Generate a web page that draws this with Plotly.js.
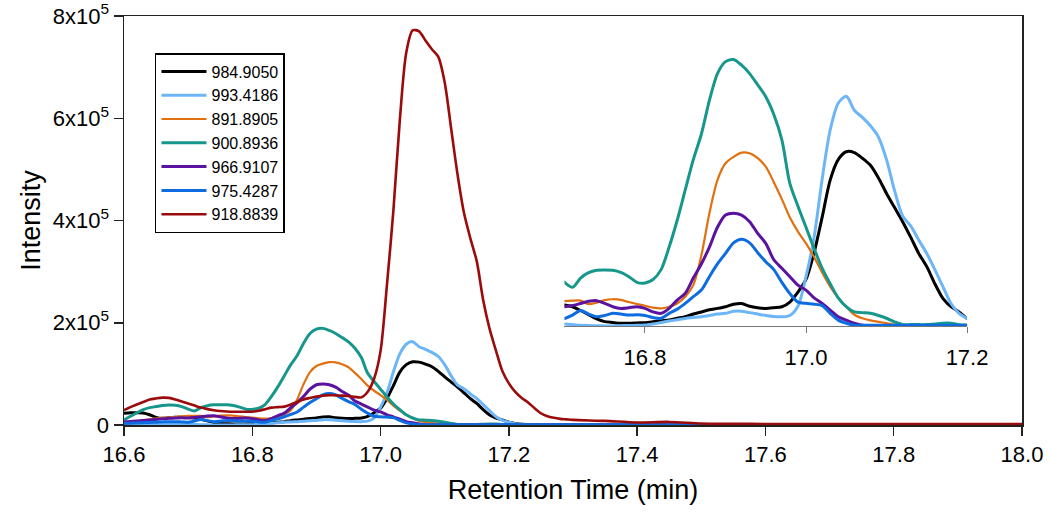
<!DOCTYPE html>
<html>
<head>
<meta charset="utf-8">
<script src="https://cdn.plot.ly/plotly-3.0.1.min.js"></script>
<style>
  html, body { margin: 0; padding: 0; background: #fff; }
  #chart { width: 1050px; height: 516px; }
</style>
</head>
<body>
<div id="chart"></div>
<script>
// retention time (min)
const times = [
  16.60, 16.61, 16.62, 16.63, 16.64, 16.65, 16.66, 16.67, 16.68, 16.69,
  16.70, 16.71, 16.72, 16.73, 16.74, 16.75, 16.76, 16.77, 16.78, 16.79,
  16.80, 16.81, 16.82, 16.83, 16.84, 16.85, 16.86, 16.87, 16.88, 16.89,
  16.90, 16.91, 16.92, 16.93, 16.94, 16.95, 16.96, 16.97, 16.98, 16.99,
  17.00, 17.01, 17.02, 17.03, 17.04, 17.05, 17.06, 17.07, 17.08, 17.09,
  17.10, 17.11, 17.12, 17.13, 17.14, 17.15, 17.16, 17.17, 17.18, 17.19,
  17.20, 17.21, 17.22, 17.23, 17.24, 17.25, 17.26, 17.27, 17.28, 17.29,
  17.30, 17.35, 17.40, 17.45, 17.50, 17.55, 17.60, 17.65, 17.70, 17.75,
  17.80, 17.85, 17.90, 17.95, 18.00
];

// intensities, in units of 10^5
const mz984 = [
  0.23, 0.24, 0.24, 0.235, 0.20, 0.15, 0.13, 0.14, 0.15, 0.15,
  0.149, 0.137, 0.11, 0.08, 0.05, 0.031, 0.025, 0.02, 0.02, 0.022,
  0.024, 0.03, 0.037, 0.042, 0.055, 0.066, 0.085, 0.10, 0.115, 0.125,
  0.137, 0.155, 0.16, 0.14, 0.13, 0.125, 0.13, 0.137, 0.17, 0.24,
  0.33, 0.52, 0.77, 1.035, 1.18, 1.236, 1.23, 1.19, 1.14, 1.05,
  0.94, 0.84, 0.74, 0.63, 0.515, 0.421, 0.30, 0.196, 0.137, 0.10,
  0.054, 0.03, 0.015, 0.01, 0.005, 0, 0, 0, 0, 0,
  0, 0, 0, 0, 0, 0, 0, 0, 0, 0,
  0, 0, 0, 0, 0
];
const mz993 = [
  0.01, 0.01, 0.01, 0.012, 0.012, 0.012, 0.015, 0.015, 0.015, 0.014,
  0.014, 0.01, 0.005, 0.003, 0.002, 0, 0, 0.002, 0.004, 0.005,
  0.007, 0.015, 0.025, 0.035, 0.045, 0.054, 0.06, 0.066, 0.075, 0.085,
  0.09, 0.105, 0.105, 0.095, 0.085, 0.075, 0.068, 0.066, 0.075, 0.14,
  0.35, 0.63, 1.04, 1.39, 1.58, 1.63, 1.53, 1.48, 1.42, 1.34,
  1.18, 0.96, 0.78, 0.71, 0.61, 0.515, 0.40, 0.28, 0.16, 0.09,
  0.054, 0.025, 0.01, 0.005, 0, 0, 0, 0, 0, 0,
  0, 0, 0, 0, 0, 0, 0, 0, 0, 0,
  0, 0, 0, 0, 0
];
const mz891 = [
  0.02, 0.04, 0.06, 0.09, 0.11, 0.13, 0.14, 0.15, 0.16, 0.17,
  0.177, 0.18, 0.18, 0.155, 0.166, 0.184, 0.19, 0.185, 0.17, 0.156,
  0.144, 0.13, 0.125, 0.137, 0.16, 0.208, 0.29, 0.50, 0.80, 1.035,
  1.154, 1.20, 1.23, 1.225, 1.19, 1.13, 1.02, 0.90, 0.77, 0.67,
  0.586, 0.49, 0.38, 0.28, 0.20, 0.137, 0.08, 0.055, 0.04, 0.03,
  0.02, 0.01, 0.005, 0, 0, 0, 0, 0, 0, 0,
  0, 0, 0, 0, 0, 0, 0, 0, 0, 0,
  0, 0, 0, 0, 0, 0, 0, 0, 0, 0,
  0, 0, 0, 0, 0
];
const mz900 = [
  0.10, 0.17, 0.24, 0.30, 0.34, 0.36, 0.38, 0.39, 0.385, 0.36,
  0.31, 0.275, 0.34, 0.378, 0.395, 0.397, 0.395, 0.38, 0.35, 0.31,
  0.305, 0.33, 0.40, 0.56, 0.75, 0.965, 1.18, 1.36, 1.60, 1.79,
  1.875, 1.89, 1.85, 1.79, 1.71, 1.626, 1.50, 1.32, 1.01, 0.85,
  0.70, 0.55, 0.41, 0.30, 0.20, 0.137, 0.10, 0.095, 0.09, 0.075,
  0.055, 0.03, 0.01, 0.01, 0.01, 0.01, 0.015, 0.02, 0.02, 0.01,
  0.005, 0, 0, 0, 0, 0, 0, 0, 0, 0,
  0, 0, 0, 0, 0, 0, 0, 0, 0, 0,
  0, 0, 0, 0, 0
];
const mz966 = [
  0.06, 0.07, 0.08, 0.09, 0.10, 0.11, 0.12, 0.13, 0.135, 0.14,
  0.137, 0.145, 0.16, 0.175, 0.18, 0.16, 0.137, 0.125, 0.13, 0.137,
  0.125, 0.10, 0.09, 0.125, 0.184, 0.232, 0.34, 0.44, 0.56, 0.70,
  0.787, 0.80, 0.787, 0.74, 0.657, 0.586, 0.47, 0.41, 0.35, 0.29,
  0.255, 0.20, 0.16, 0.113, 0.066, 0.042, 0.02, 0.005, 0, 0,
  0, 0, 0, 0, 0, 0, 0, 0, 0, 0,
  0, 0, 0, 0, 0, 0, 0, 0, 0, 0,
  0, 0, 0, 0, 0, 0, 0, 0, 0, 0,
  0, 0, 0, 0, 0
];
const mz975 = [
  0.03, 0.035, 0.04, 0.045, 0.05, 0.055, 0.06, 0.065, 0.065, 0.06,
  0.054, 0.078, 0.11, 0.085, 0.066, 0.075, 0.09, 0.085, 0.078, 0.08,
  0.075, 0.06, 0.055, 0.09, 0.12, 0.161, 0.208, 0.255, 0.35, 0.44,
  0.515, 0.59, 0.615, 0.59, 0.52, 0.456, 0.40, 0.31, 0.23, 0.17,
  0.161, 0.155, 0.145, 0.09, 0.042, 0.02, 0.005, 0.005, 0.005, 0.005,
  0.005, 0.005, 0.005, 0.005, 0.005, 0.005, 0.005, 0.005, 0.005, 0.005,
  0.005, 0.005, 0.005, 0.005, 0.005, 0.005, 0.005, 0.005, 0.005, 0.005,
  0.005, 0.005, 0.005, 0.005, 0.005, 0.005, 0.005, 0.005, 0.005, 0.005,
  0.005, 0.005, 0.005, 0.005, 0.005
];
const mz918 = [
  0.29, 0.35, 0.40, 0.45, 0.50, 0.52, 0.535, 0.53, 0.50, 0.46,
  0.42, 0.38, 0.34, 0.31, 0.29, 0.275, 0.265, 0.26, 0.26, 0.26,
  0.26, 0.28, 0.31, 0.34, 0.35, 0.36, 0.40, 0.45, 0.50, 0.53,
  0.555, 0.575, 0.585, 0.58, 0.575, 0.567, 0.55, 0.54, 0.65, 0.91,
  1.45, 2.75, 4.2, 5.96, 7.28, 7.72, 7.70, 7.52, 7.35, 7.2,
  6.7, 5.8, 4.9, 4.15, 3.65, 3.2, 2.44, 1.88, 1.45, 1.05,
  0.815, 0.65, 0.53, 0.44, 0.33, 0.23, 0.17, 0.14, 0.12, 0.11,
  0.10, 0.08, 0.05, 0.06, 0.03, 0.025, 0.02, 0.02, 0.02, 0.02,
  0.02, 0.02, 0.02, 0.02, 0.02
];

const names = ['984.9050', '993.4186', '891.8905', '900.8936', '966.9107', '975.4287', '918.8839'];
const series = [mz984, mz993, mz891, mz900, mz966, mz975, mz918];
const colors = ['#000000', '#6cb6f7', '#e1700f', '#17978b', '#5b139f', '#0d6de0', '#9b0b0b'];
const widths = [3, 3, 2.2, 3, 3, 3, 2.6];

const yTicks = [0, 2, 4, 6, 8];
const yTickText = ['0', '2x10<sup>5</sup>', '4x10<sup>5</sup>', '6x10<sup>5</sup>', '8x10<sup>5</sup>'];
const insetTicks = [16.8, 17.0, 17.2];

let traces = [];

// main chromatograms
for (let i = 0; i < series.length; i++) {
  traces.push({
    x: times,
    y: series[i],
    mode: 'lines',
    name: names[i],
    line: {color: colors[i], width: widths[i], shape: 'spline', smoothing: 0.8},
    xaxis: 'x',
    yaxis: 'y'
  });
}

// zoomed inset (all but 918.8839)
for (let i = 0; i < 6; i++) {
  traces.push({
    x: times,
    y: series[i],
    mode: 'lines',
    showlegend: false,
    line: {color: colors[i], width: widths[i], shape: 'spline', smoothing: 0.8},
    xaxis: 'x2',
    yaxis: 'y2'
  });
}

const fontFam = 'Liberation Sans, Arial, sans-serif';

var layout = {
  width: 1050,
  height: 516,
  margin: {l: 124, r: 28, t: 16, b: 91},
  paper_bgcolor: '#ffffff',
  plot_bgcolor: 'rgba(0,0,0,0)',
  font: {family: fontFam, color: '#000'},
  showlegend: true,
  legend: {
    x: 0.0345,
    y: 0.9095,
    xanchor: 'left',
    yanchor: 'top',
    bordercolor: '#000',
    borderwidth: 1.5,
    bgcolor: '#fff',
    font: {size: 16, family: fontFam},
    itemwidth: 45,
    tracegroupgap: 0
  },
  xaxis: {
    domain: [0, 1],
    range: [16.6, 18.0],
    tick0: 16.6,
    dtick: 0.2,
    tickformat: '.1f',
    ticks: 'outside',
    ticklen: 9,
    tickwidth: 1.5,
    tickcolor: '#222',
    showline: true,
    mirror: true,
    linecolor: '#222',
    linewidth: 1.5,
    showgrid: false,
    zeroline: false,
    tickfont: {size: 22},
    title: {text: 'Retention Time (min)', font: {size: 27}, standoff: 14}
  },
  yaxis: {
    domain: [0, 1],
    range: [0, 8],
    tickvals: yTicks,
    ticktext: yTickText,
    ticks: 'outside',
    ticklen: 9,
    tickwidth: 1.5,
    tickcolor: '#222',
    showline: true,
    mirror: true,
    linecolor: '#222',
    linewidth: 1.5,
    showgrid: false,
    zeroline: false,
    tickfont: {size: 22},
    title: {text: 'Intensity', font: {size: 27}, standoff: 4}
  },
  xaxis2: {
    domain: [0.4905, 0.9388],
    anchor: 'y2',
    range: [16.7, 17.2],
    tickvals: insetTicks,
    tickformat: '.1f',
    ticks: 'outside',
    ticklen: 6,
    tickwidth: 1,
    tickcolor: '#777',
    ticklabelstandoff: 6,
    showline: true,
    linecolor: '#777',
    linewidth: 1,
    showgrid: false,
    zeroline: false,
    tickfont: {size: 22}
  },
  yaxis2: {
    domain: [0.242, 0.9315],
    anchor: 'x2',
    range: [0, 2],
    visible: false
  }
};

Plotly.newPlot('chart', traces, layout, {staticPlot: true});
</script>
</body>
</html>
